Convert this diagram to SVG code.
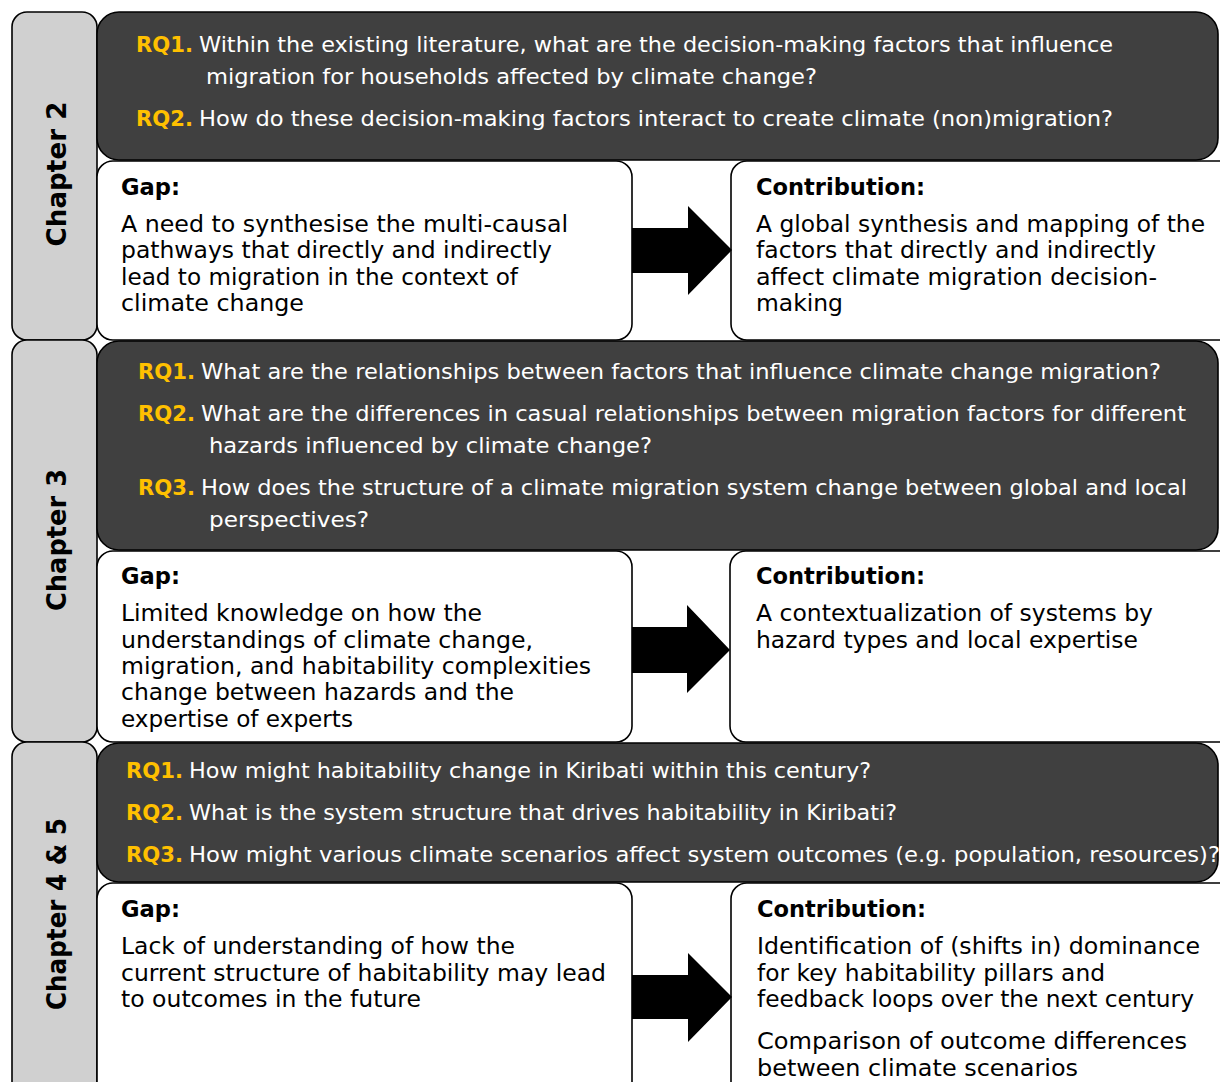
<svg xmlns="http://www.w3.org/2000/svg" width="1220" height="1082" viewBox="0 0 1220 1082">
<defs>
<style>
.tab{fill:#d0d0d0;stroke:#000;stroke-width:1.6}
.dark{fill:#404040;stroke:#000;stroke-width:1.6}
.box{fill:#fff;stroke:#000;stroke-width:1.6}
.rq{font-family:"DejaVu Sans",sans-serif;font-weight:bold;font-size:21px;fill:#ffc000}
.q{font-family:"DejaVu Sans",sans-serif;font-size:21px;fill:#fff}
.h{font-family:"DejaVu Sans",sans-serif;font-weight:bold;font-size:23px;fill:#000}
.t{font-family:"DejaVu Sans",sans-serif;font-size:23px;fill:#000}
.ch{font-family:"DejaVu Sans",sans-serif;font-weight:bold;font-size:27px;fill:#000;text-anchor:middle}
.arrow{fill:#000}
</style>
</defs>
<rect width="1220" height="1082" fill="#fff"/>

<g id="tab-ch2"><rect class="tab" x="12" y="12" width="85" height="328" rx="15"/>
<text class="ch" transform="translate(66,174) rotate(-90)" textLength="145" lengthAdjust="spacingAndGlyphs">Chapter 2</text></g>
<g id="tab-ch3"><rect class="tab" x="12" y="340" width="85" height="402" rx="15"/>
<text class="ch" transform="translate(66,540) rotate(-90)" textLength="142" lengthAdjust="spacingAndGlyphs">Chapter 3</text></g>
<g id="tab-ch45"><rect class="tab" x="12" y="742" width="85" height="370" rx="15"/>
<text class="ch" transform="translate(66,914) rotate(-90)" textLength="192" lengthAdjust="spacingAndGlyphs">Chapter 4 &amp; 5</text></g>

<g id="rq-ch2"><rect class="dark" x="97" y="12" width="1121" height="148" rx="22"/>
<text class="rq" x="136" y="52" textLength="57" lengthAdjust="spacingAndGlyphs">RQ1.</text>
<text class="q" x="199" y="52" textLength="914" lengthAdjust="spacingAndGlyphs">Within the existing literature, what are the decision-making factors that influence</text>
<text class="q" x="206" y="84" textLength="611" lengthAdjust="spacingAndGlyphs">migration for households affected by climate change?</text>
<text class="rq" x="136" y="126" textLength="57" lengthAdjust="spacingAndGlyphs">RQ2.</text>
<text class="q" x="199" y="126" textLength="914" lengthAdjust="spacingAndGlyphs">How do these decision-making factors interact to create climate (non)migration?</text></g>

<g id="gap-ch2"><rect class="box" x="97" y="161" width="535" height="179" rx="16"/>
<text class="h" x="121" y="195" textLength="59" lengthAdjust="spacingAndGlyphs">Gap:</text>
<text class="t" x="121" y="232" textLength="447" lengthAdjust="spacingAndGlyphs">A need to synthesise the multi-causal</text>
<text class="t" x="121" y="258" textLength="431" lengthAdjust="spacingAndGlyphs">pathways that directly and indirectly</text>
<text class="t" x="121" y="285" textLength="397" lengthAdjust="spacingAndGlyphs">lead to migration in the context of</text>
<text class="t" x="121" y="311" textLength="183" lengthAdjust="spacingAndGlyphs">climate change</text></g>

<g id="contrib-ch2"><rect class="box" x="731" y="161" width="510" height="179" rx="16"/>
<text class="h" x="756" y="195" textLength="169" lengthAdjust="spacingAndGlyphs">Contribution:</text>
<text class="t" x="756" y="232" textLength="449" lengthAdjust="spacingAndGlyphs">A global synthesis and mapping of the</text>
<text class="t" x="756" y="258" textLength="400" lengthAdjust="spacingAndGlyphs">factors that directly and indirectly</text>
<text class="t" x="756" y="285" textLength="401" lengthAdjust="spacingAndGlyphs">affect climate migration decision-</text>
<text class="t" x="756" y="311" textLength="87" lengthAdjust="spacingAndGlyphs">making</text></g>

<g id="rq-ch3"><rect class="dark" x="97" y="341" width="1121" height="209" rx="22"/>
<text class="rq" x="138" y="379" textLength="57" lengthAdjust="spacingAndGlyphs">RQ1.</text>
<text class="q" x="201" y="379" textLength="960" lengthAdjust="spacingAndGlyphs">What are the relationships between factors that influence climate change migration?</text>
<text class="rq" x="138" y="421" textLength="57" lengthAdjust="spacingAndGlyphs">RQ2.</text>
<text class="q" x="201" y="421" textLength="985" lengthAdjust="spacingAndGlyphs">What are the differences in casual relationships between migration factors for different</text>
<text class="q" x="209" y="453" textLength="443" lengthAdjust="spacingAndGlyphs">hazards influenced by climate change?</text>
<text class="rq" x="138" y="495" textLength="57" lengthAdjust="spacingAndGlyphs">RQ3.</text>
<text class="q" x="201" y="495" textLength="986" lengthAdjust="spacingAndGlyphs">How does the structure of a climate migration system change between global and local</text>
<text class="q" x="209" y="527" textLength="160" lengthAdjust="spacingAndGlyphs">perspectives?</text></g>

<g id="gap-ch3"><rect class="box" x="97" y="551" width="535" height="191" rx="16"/>
<text class="h" x="121" y="584" textLength="59" lengthAdjust="spacingAndGlyphs">Gap:</text>
<text class="t" x="121" y="621" textLength="361" lengthAdjust="spacingAndGlyphs">Limited knowledge on how the</text>
<text class="t" x="121" y="648" textLength="412" lengthAdjust="spacingAndGlyphs">understandings of climate change,</text>
<text class="t" x="121" y="674" textLength="470" lengthAdjust="spacingAndGlyphs">migration, and habitability complexities</text>
<text class="t" x="121" y="700" textLength="393" lengthAdjust="spacingAndGlyphs">change between hazards and the</text>
<text class="t" x="121" y="727" textLength="232" lengthAdjust="spacingAndGlyphs">expertise of experts</text></g>

<g id="contrib-ch3"><rect class="box" x="730" y="551" width="510" height="191" rx="16"/>
<text class="h" x="756" y="584" textLength="169" lengthAdjust="spacingAndGlyphs">Contribution:</text>
<text class="t" x="756" y="621" textLength="397" lengthAdjust="spacingAndGlyphs">A contextualization of systems by</text>
<text class="t" x="756" y="648" textLength="382" lengthAdjust="spacingAndGlyphs">hazard types and local expertise</text></g>

<g id="rq-ch45"><rect class="dark" x="97" y="743" width="1121" height="139" rx="22"/>
<text class="rq" x="126" y="778" textLength="57" lengthAdjust="spacingAndGlyphs">RQ1.</text>
<text class="q" x="189" y="778" textLength="682" lengthAdjust="spacingAndGlyphs">How might habitability change in Kiribati within this century?</text>
<text class="rq" x="126" y="820" textLength="57" lengthAdjust="spacingAndGlyphs">RQ2.</text>
<text class="q" x="189" y="820" textLength="708" lengthAdjust="spacingAndGlyphs">What is the system structure that drives habitability in Kiribati?</text>
<text class="rq" x="126" y="862" textLength="57" lengthAdjust="spacingAndGlyphs">RQ3.</text>
<text class="q" x="189" y="862" textLength="1031" lengthAdjust="spacingAndGlyphs">How might various climate scenarios affect system outcomes (e.g. population, resources)?</text></g>

<g id="gap-ch45"><rect class="box" x="97" y="883" width="535" height="230" rx="16"/>
<text class="h" x="121" y="917" textLength="59" lengthAdjust="spacingAndGlyphs">Gap:</text>
<text class="t" x="121" y="954" textLength="394" lengthAdjust="spacingAndGlyphs">Lack of understanding of how the</text>
<text class="t" x="121" y="981" textLength="485" lengthAdjust="spacingAndGlyphs">current structure of habitability may lead</text>
<text class="t" x="121" y="1007" textLength="300" lengthAdjust="spacingAndGlyphs">to outcomes in the future</text></g>

<g id="contrib-ch45"><rect class="box" x="731" y="883" width="510" height="230" rx="16"/>
<text class="h" x="757" y="917" textLength="169" lengthAdjust="spacingAndGlyphs">Contribution:</text>
<text class="t" x="757" y="954" textLength="443" lengthAdjust="spacingAndGlyphs">Identification of (shifts in) dominance</text>
<text class="t" x="757" y="981" textLength="348" lengthAdjust="spacingAndGlyphs">for key habitability pillars and</text>
<text class="t" x="757" y="1007" textLength="437" lengthAdjust="spacingAndGlyphs">feedback loops over the next century</text>
<text class="t" x="757" y="1049" textLength="430" lengthAdjust="spacingAndGlyphs">Comparison of outcome differences</text>
<text class="t" x="757" y="1076" textLength="321" lengthAdjust="spacingAndGlyphs">between climate scenarios</text></g>

<g id="connectors">
<polygon class="arrow" points="632,228 688,228 688,206 732,250 688,295 688,273 632,273"/>
<polygon class="arrow" points="632,627 687,627 687,605 730,650 687,693 687,673 632,673"/>
<polygon class="arrow" points="632,975 688,975 688,953 732,997 688,1042 688,1019 632,1019"/>
</g>
</svg>
